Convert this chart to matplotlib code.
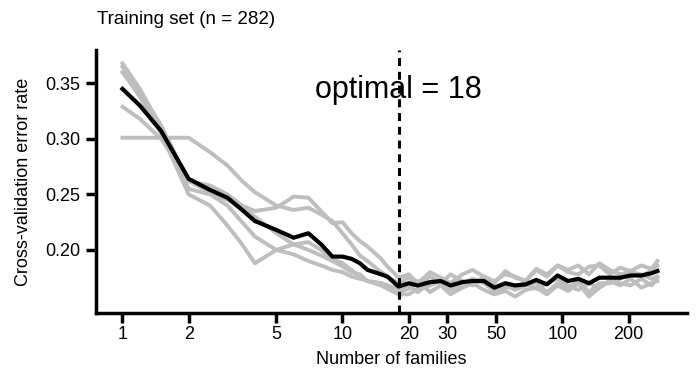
import matplotlib
matplotlib.use("Agg")
import matplotlib.pyplot as plt
from matplotlib.ticker import FixedLocator, FixedFormatter, NullLocator

plt.rcParams.update({
    "font.family": ["Liberation Sans", "DejaVu Sans"],
    "font.size": 13,
})

# number of families (x) and CV error per replicate / mean
n_fam = [1, 1.2, 1.5, 2, 2.5, 3, 3.5, 4, 5, 6, 7, 8, 9, 10, 11, 12, 13, 15, 16, 18,
         20, 22, 25, 28, 31, 35, 39, 44, 49, 55, 61, 68, 76, 85, 95, 106, 118, 132,
         147, 164, 183, 204, 228, 254, 270]

err_mean = [0.345, 0.330, 0.307, 0.264, 0.254, 0.247, 0.236, 0.226, 0.218, 0.211,
            0.215, 0.205, 0.194, 0.194, 0.192, 0.188, 0.182, 0.178, 0.176, 0.167,
            0.170, 0.168, 0.171, 0.172, 0.168, 0.171, 0.172, 0.172, 0.166, 0.170,
            0.168, 0.169, 0.173, 0.169, 0.177, 0.172, 0.174, 0.170, 0.175, 0.175,
            0.175, 0.177, 0.177, 0.179, 0.181]

rep1 = [0.301, 0.301, 0.301, 0.301, 0.288, 0.276, 0.262, 0.252, 0.240, 0.236,
        0.238, 0.232, 0.226, 0.215, 0.205, 0.195, 0.190, 0.180, 0.176, 0.170,
        0.175, 0.168, 0.176, 0.170, 0.178, 0.172, 0.168, 0.176, 0.170, 0.181,
        0.175, 0.172, 0.182, 0.176, 0.186, 0.180, 0.178, 0.185, 0.186, 0.178,
        0.184, 0.181, 0.186, 0.183, 0.190]
rep2 = [0.368, 0.345, 0.310, 0.255, 0.250, 0.240, 0.225, 0.212, 0.200, 0.196,
        0.190, 0.186, 0.182, 0.180, 0.176, 0.174, 0.172, 0.170, 0.168, 0.162,
        0.165, 0.172, 0.162, 0.168, 0.160, 0.166, 0.170, 0.164, 0.160, 0.163,
        0.158, 0.164, 0.166, 0.160, 0.168, 0.163, 0.170, 0.158, 0.166, 0.172,
        0.168, 0.174, 0.166, 0.170, 0.172]
rep3 = [0.365, 0.343, 0.312, 0.262, 0.258, 0.250, 0.240, 0.235, 0.238, 0.248,
        0.247, 0.235, 0.224, 0.225, 0.215, 0.208, 0.203, 0.192, 0.185, 0.175,
        0.178, 0.170, 0.180, 0.175, 0.170, 0.178, 0.182, 0.176, 0.172, 0.178,
        0.176, 0.172, 0.183, 0.178, 0.186, 0.182, 0.186, 0.178, 0.188, 0.182,
        0.178, 0.180, 0.176, 0.182, 0.186]
rep4 = [0.360, 0.338, 0.305, 0.250, 0.240, 0.222, 0.205, 0.188, 0.200, 0.205,
        0.200, 0.195, 0.190, 0.185, 0.180, 0.178, 0.172, 0.168, 0.165, 0.160,
        0.160, 0.165, 0.168, 0.172, 0.164, 0.170, 0.174, 0.170, 0.163, 0.166,
        0.168, 0.170, 0.165, 0.170, 0.174, 0.168, 0.164, 0.170, 0.166, 0.172,
        0.170, 0.168, 0.174, 0.168, 0.175]
rep5 = [0.329, 0.318, 0.300, 0.262, 0.252, 0.245, 0.238, 0.230, 0.215, 0.205,
        0.207, 0.200, 0.192, 0.188, 0.182, 0.176, 0.172, 0.170, 0.168, 0.165,
        0.168, 0.162, 0.170, 0.175, 0.168, 0.166, 0.170, 0.175, 0.166, 0.168,
        0.164, 0.168, 0.170, 0.162, 0.170, 0.166, 0.172, 0.162, 0.170, 0.170,
        0.174, 0.180, 0.178, 0.174, 0.176]

optimal = 18
x_ticks = [1, 2, 5, 10, 20, 30, 50, 100, 200]
y_ticks = [0.20, 0.25, 0.30, 0.35]

fig = plt.figure(figsize=(7, 3.92), dpi=100)
ax = fig.add_axes([0.1371, 0.2015, 0.8443, 0.6709])

for rep in [rep1, rep2, rep3, rep4, rep5]:
    ax.plot(n_fam, rep, color="#bebebe", lw=2.8, zorder=2)
ax.plot(n_fam, err_mean, color="black", lw=3.0, zorder=3)

ax.axvline(optimal, color="black", lw=2.2, dashes=(2.6, 1.9), zorder=4)
ax.text(optimal, 0.344, f"optimal = {optimal}", ha="center", va="center",
        fontsize=22, zorder=5)

ax.set_xscale("log")
ax.set_xlim(0.758, 368)
ax.set_ylim(0.1432, 0.380)
ax.xaxis.set_major_locator(FixedLocator(x_ticks))
ax.xaxis.set_major_formatter(FixedFormatter([str(t) for t in x_ticks]))
ax.xaxis.set_minor_locator(NullLocator())
ax.set_yticks(y_ticks)
ax.set_yticklabels([f"{t:.2f}" for t in y_ticks])

for side in ["top", "right"]:
    ax.spines[side].set_visible(False)
for side in ["left", "bottom"]:
    ax.spines[side].set_linewidth(2.5)
ax.tick_params(length=7, width=2.5, labelsize=13)
ax.tick_params(axis="x", pad=2)
ax.tick_params(axis="y", pad=4)

ax.set_xlabel("Number of families", fontsize=13, labelpad=6)
ax.set_ylabel("Cross-validation error rate", fontsize=13, labelpad=10)
fig.text(97 / 700, 1 - 20 / 392, "Training set (n = 282)", fontsize=13.5,
         ha="left", va="center")

fig.savefig("out.png", dpi=100, facecolor="white")
